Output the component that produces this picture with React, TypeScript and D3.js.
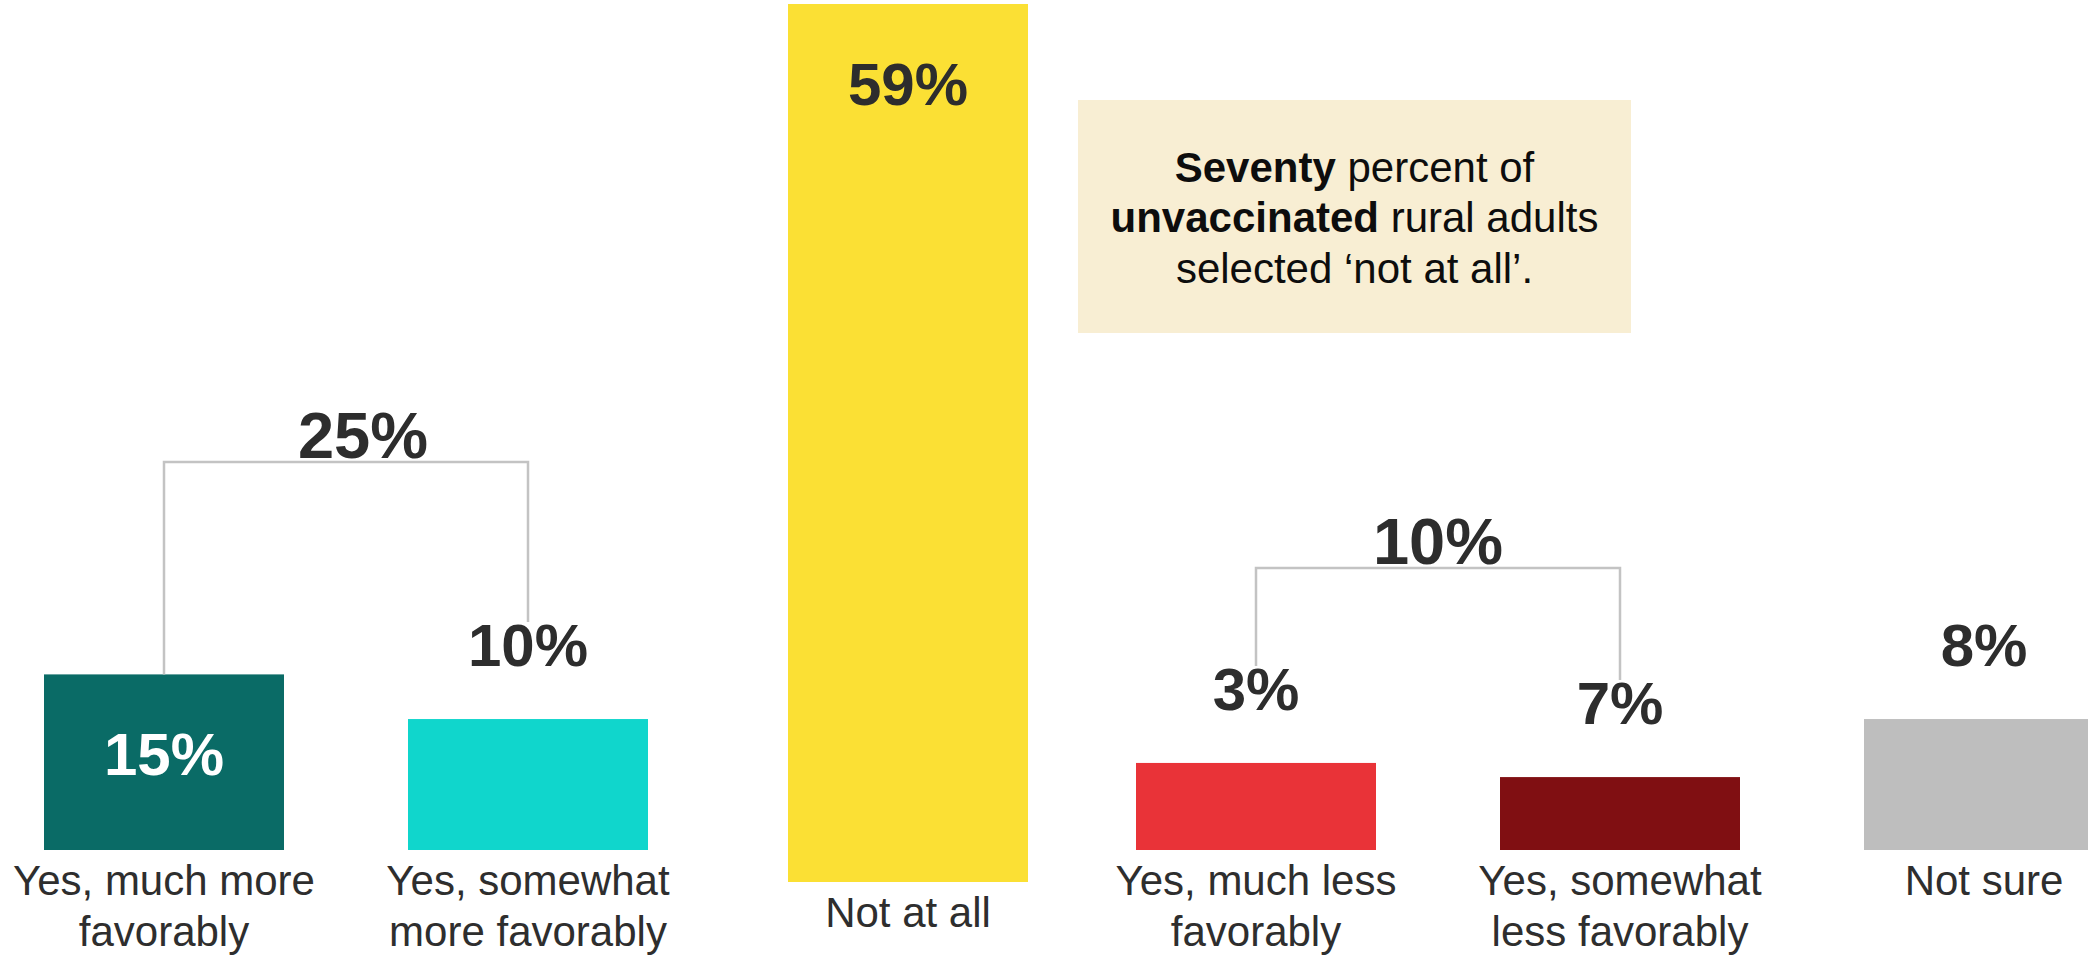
import React from 'react';
import * as d3 from 'd3';

// values printed on the bars
const categories = [
  'Yes, much more favorably',
  'Yes, somewhat more favorably',
  'Not at all',
  'Yes, much less favorably',
  'Yes, somewhat less favorably',
  'Not sure',
];
const values = [15, 10, 59, 3, 7, 8];
// bar lengths as drawn in the source graphic (in % units, read against the 59% bar)
const drawnLengths = [11.8, 8.8, 59, 5.85, 4.9, 8.8];
const labelLines = [
  ['Yes, much more', 'favorably'],
  ['Yes, somewhat', 'more favorably'],
  ['Not at all'],
  ['Yes, much less', 'favorably'],
  ['Yes, somewhat', 'less favorably'],
  ['Not sure'],
];
const bracketFrom = [0, 3];
const bracketTo = [1, 4];
const bracketTotals = [25, 10];

const colors = ['#0a6b66', '#10d6cc', '#fbe034', '#e93338', '#800f12', '#bebebe'];

const W = 2088;
const H = 959;
const FONT = "Arial, 'Liberation Sans', Helvetica, sans-serif";
const TEXT = '#2d2d2d';

const App: React.FC = () => {
  const baseline = 850;
  const x = d3
    .scaleBand<string>()
    .domain(categories)
    .range([44, 2104])
    .paddingInner(1 - 240 / 364)
    .paddingOuter(0);
  const len = d3.scaleLinear().domain([0, 59]).range([0, 878]);

  // the "Not at all" column is a separate block, set a bit lower and to the right
  const dy = (i: number) => (i === 2 ? 32 : 0);
  const dx = (i: number) => (i === 2 ? 16 : 0);
  const inside = (i: number) => i === 0 || i === 2;

  const barX = (i: number) => (x(categories[i]) || 0) + dx(i);
  const barTop = (i: number) => baseline + dy(i) - len(drawnLengths[i]);
  const valueBaseline = (i: number) => (inside(i) ? barTop(i) + 101 : barTop(i) - 53);
  const legEnd = (i: number) => (inside(i) ? barTop(i) : valueBaseline(i) - 44);
  const cx = (i: number) => barX(i) + x.bandwidth() / 2;

  const bracketY = [462, 568];
  const bracketLabelDx = [17, 0];

  return (
    <svg
      width={W}
      height={H}
      style={{ position: 'absolute', left: 0, top: 0, display: 'block', background: '#fff' }}
      fontFamily={FONT}
    >
      {/* annotation box */}
      <rect x={1078} y={100} width={553} height={233} fill="#f8eed3" />
      <text x={1354.5} textAnchor="middle" fontSize={42} fill="#0d0d0d">
        <tspan x={1354.5} y={182}>
          <tspan fontWeight="bold">Seventy</tspan> percent of
        </tspan>
        <tspan x={1354.5} y={232}>
          <tspan fontWeight="bold">unvaccinated</tspan> rural adults
        </tspan>
        <tspan x={1354.5} y={283}>
          selected ‘not at all’.
        </tspan>
      </text>

      {/* bars */}
      {categories.map((c, i) => (
        <rect
          key={c}
          x={barX(i)}
          y={barTop(i)}
          width={x.bandwidth()}
          height={len(drawnLengths[i])}
          fill={colors[i]}
        />
      ))}

      {/* brackets */}
      {bracketTotals.map((t, k) => {
        const a = bracketFrom[k];
        const b = bracketTo[k];
        const y = bracketY[k];
        return (
          <g key={k}>
            <path
              d={`M${cx(a)},${legEnd(a)}V${y}H${cx(b)}V${legEnd(b)}`}
              fill="none"
              stroke="#c3c3c3"
              strokeWidth={2.5}
            />
            <text
              x={(cx(a) + cx(b)) / 2 + bracketLabelDx[k]}
              y={y - 4}
              textAnchor="middle"
              fontSize={65}
              fontWeight="bold"
              fill={TEXT}
            >
              {t}%
            </text>
          </g>
        );
      })}

      {/* value labels */}
      {values.map((v, i) => (
        <text
          key={i}
          x={cx(i)}
          y={valueBaseline(i)}
          textAnchor="middle"
          fontSize={60}
          fontWeight="bold"
          fill={i === 0 ? '#ffffff' : TEXT}
        >
          {v}%
        </text>
      ))}

      {/* category labels */}
      {labelLines.map((lines, i) => (
        <text key={i} textAnchor="middle" fontSize={42} fill="#2e2e2e">
          {lines.map((l, j) => (
            <tspan key={j} x={cx(i)} y={baseline + 45 + dy(i) + j * 51}>
              {l}
            </tspan>
          ))}
        </text>
      ))}
    </svg>
  );
};

export default App;
